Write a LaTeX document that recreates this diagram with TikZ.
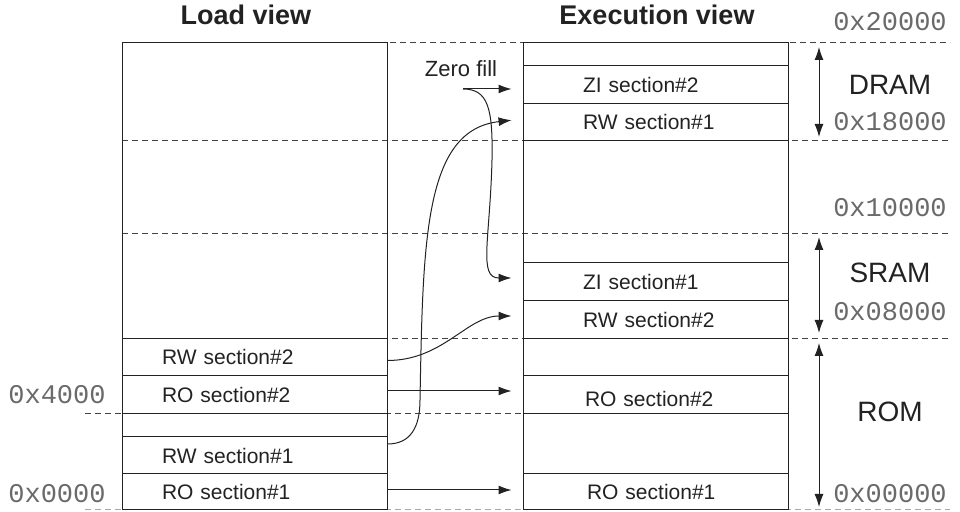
\documentclass[tikz,border=0pt]{standalone}
\usepackage{fontspec}
\setmainfont{Liberation Sans}
\setmonofont{Liberation Mono}
\usetikzlibrary{arrows.meta}
\definecolor{ink}{HTML}{222222}
\definecolor{addrgray}{HTML}{6A6A6A}

\begin{document}
\begin{tikzpicture}[x=0.5pt, y=-0.5pt, line width=0.5pt, color=ink,
		>={Latex[length=6.5pt,width=4.5pt]},
		viewbox/.style={draw, minimum width=132.5pt, minimum height=233.5pt, inner sep=0pt},
		loadsec/.style={draw, minimum height=#1, text width=92.5pt, inner xsep=20pt, inner ysep=0pt, align=left, font=\fontsize{10.5}{12}\selectfont},
		execsec/.style={draw, minimum height=#1, text width=72.5pt, inner xsep=30pt, inner ysep=0pt, align=left, font=\fontsize{10.5}{12}\selectfont},
		viewtitle/.style={font=\fontsize{13.5}{16}\selectfont\bfseries},
		regionlabel/.style={font=\fontsize{14}{16}\selectfont},
		addrlabel/.style={text=addrgray, font=\fontsize{13.5}{16}\selectfont\ttfamily},
		boundary/.style={dash pattern=on 3pt off 2pt, draw=ink!85},
		sizearrow/.style={<->},
		link/.style={->, shorten >=5.5pt}]
	\useasboundingbox (0,0) rectangle (960,512);

	\foreach \y in {141,234,339}
		\draw[boundary] (122,\y) -- (950,\y);
	\draw[boundary] (310,43) -- (950,43);
	\draw[boundary] (85,414) -- (545,414);
	\draw[boundary, draw=ink!40] (85,510) -- (950,510);

	\draw
	node[viewtitle] at (246,15) (loadtitle) {Load view}
	node[viewtitle] at (657,15) (exectitle) {Execution view}
	node[viewbox] at (254.5,276.5) (load) {}
	node[viewbox] at (655.5,276.5) (exec) {}

	node[loadsec=18.5pt] at (254.5,357.5) (lrw2) {RW section\#2}
	node[loadsec=19pt] at (254.5,395) (lro2) {RO section\#2}
	node[loadsec=18.5pt] at (254.5,455.5) (lrw1) {RW section\#1}
	node[loadsec=18pt] at (254.5,492) (lro1) {RO section\#1}

	node[execsec=19pt] at (655.5,85) (ezi2) {ZI section\#2}
	node[execsec=18.5pt] at (655.5,122.5) (erw1) {RW section\#1}
	node[execsec=19pt] at (655.5,282) (ezi1) {ZI section\#1}
	node[execsec=19pt] at (655.5,320) (erw2) {RW section\#2}
	node[execsec=19pt, text height=13.5pt, text depth=2pt] at (655.5,395) (ero2) {\hspace*{1pt}RO section\#2}
	node[execsec=18pt] at (655.5,492) (ero1) {\hspace*{2pt}RO section\#1}

	node[font=\fontsize{11}{13}\selectfont] at (461,69) (zerofill) {Zero fill}

	node[addrlabel] at (890,22) (a20000) {0x20000}
	node[addrlabel] at (890,122) (a18000) {0x18000}
	node[addrlabel] at (890,208) (a10000) {0x10000}
	node[addrlabel] at (890,312) (a08000) {0x08000}
	node[addrlabel] at (890,494) (a00000) {0x00000}
	node[addrlabel] at (57,395) (a4000) {0x4000}
	node[addrlabel] at (57,494) (a0000) {0x0000}

	node[regionlabel] at (890,85) (dram) {DRAM}
	node[regionlabel] at (890,273) (sram) {SRAM}
	node[regionlabel] at (890,412) (rom) {ROM}
	;

	\coordinate (zf) at (463,89);
	\coordinate (dramtop) at (819,47);
	\coordinate (dramlow) at (819,137);
	\coordinate (sramtop) at (819,237);
	\coordinate (sramlow) at (819,333);
	\coordinate (romtop) at (819,343);
	\coordinate (romlow) at (819,507);

	\draw[sizearrow] (dramtop) -- (dramlow);
	\draw[sizearrow] (sramtop) -- (sramlow);
	\draw[sizearrow] (romtop) -- (romlow);

	\draw[link] ([yshift=2pt]lro2.east) -- ([yshift=2pt]ero2.west);
	\draw[link] ([yshift=1pt]lro1.east) -- ([yshift=1pt]ero1.west);
	\draw[link] ([yshift=-1.5pt]lrw2.east) to[out=0,in=180] ([yshift=2pt]erw2.west);
	\draw[link] ([yshift=5.75pt]lrw1.east) .. controls (410,444) and (420,428) .. (420,400)
		.. controls (423,240) and (424,130) .. ([yshift=1.75pt]erw1.west);
	\draw[link] (zf) -- (zf -| ezi2.west);
	\draw[link] (zf) .. controls (488,89) and (493,108) .. (492,160)
		.. controls (490,240) and (478,278) .. ([yshift=2pt]ezi1.west);
\end{tikzpicture}
\end{document}
